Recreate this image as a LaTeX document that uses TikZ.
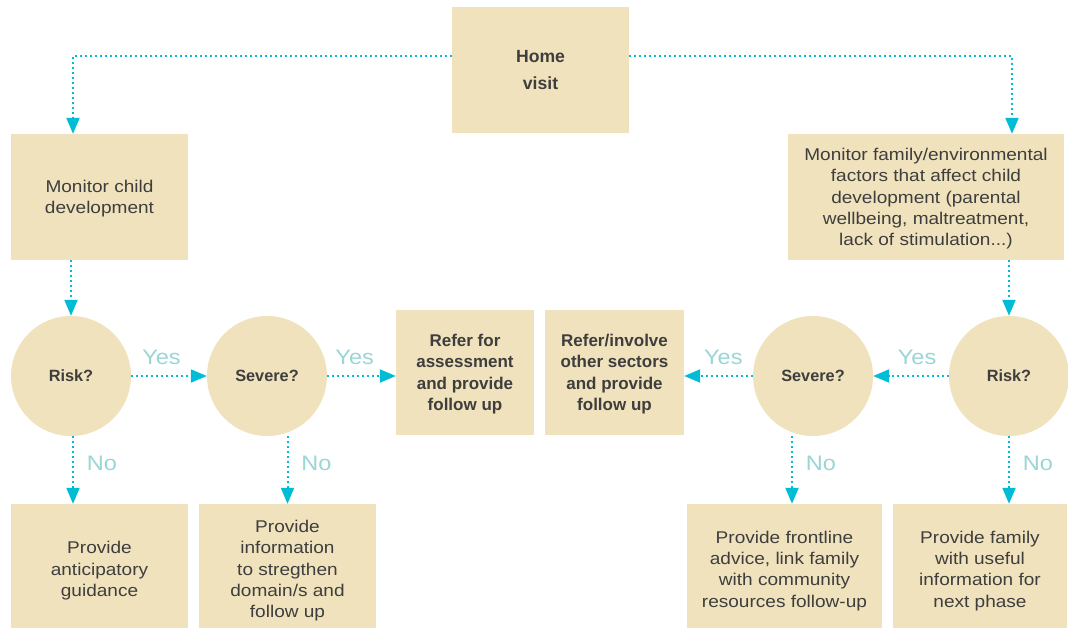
\documentclass[tikz,border=0pt]{standalone}
\usepackage{fontspec}
\setmainfont{Liberation Sans}
\newfontfamily\regf{Liberation Sans}[FakeStretch=1.12]
\usetikzlibrary{arrows.meta,calc}
\definecolor{boxc}{HTML}{F0E2BC}
\definecolor{arrc}{RGB}{0,188,212}
\definecolor{txt}{HTML}{3E3E3E}
\definecolor{lblc}{HTML}{9AD6D6}
\tikzset{
  box/.style={rectangle, fill=boxc, draw=none, align=center, inner sep=0pt, text=txt,
    text depth=-5pt, font=\regf\fontsize{17}{21.3}\selectfont},
  bbox/.style={box, text depth=-7pt, font=\bfseries\fontsize{17}{21.5}\selectfont},
  circ/.style={circle, fill=boxc, draw=none, minimum size=120pt, inner sep=0pt, text=txt,
    font=\bfseries\fontsize{16.3}{20}\selectfont},
  arr/.style={draw=arrc, line width=2pt, dash pattern=on 2pt off 3pt,
    -{Triangle[width=13pt,length=16pt,fill=arrc]}},
  lbl/.style={text=lblc, font=\regf\fontsize{21}{24}\selectfont, inner sep=0pt},
}
\begin{document}
\begin{tikzpicture}[x=1pt,y=-1pt]
\useasboundingbox[fill=white] (0,0) rectangle (1068,628);
% top
\node[bbox, minimum width=177pt, minimum height=126pt, text depth=-9pt, font=\bfseries\fontsize{17.6}{27.4}\selectfont] (hv) at (540.5,70) {Home\\visit};
\node[box, minimum width=177pt, minimum height=126pt] (mc) at (99.5,197) {Monitor child\\development};
\node[box, minimum width=276pt, minimum height=126pt] (mf) at (926,197) {Monitor family/environmental\\factors that affect child\\development (parental\\wellbeing, maltreatment,\\lack of stimulation...)};
% middle
\node[circ] (risk1) at (71,376) {Risk?};
\node[circ] (sev1) at (267,376) {Severe?};
\node[bbox, minimum width=138pt, minimum height=125pt] (ref1) at (465,372.5) {Refer for\\assessment\\and provide\\follow up};
\node[bbox, minimum width=139pt, minimum height=125pt] (ref2) at (614.5,372.5) {Refer/involve\\other sectors\\and provide\\follow up};
\node[circ] (sev2) at (813,376) {Severe?};
\node[circ] (risk2) at (1009,376) {Risk?};
% bottom
\node[box, minimum width=177pt, minimum height=130pt] (b1) at (99.5,569) {Provide\\anticipatory\\guidance};
\node[box, minimum width=177pt, minimum height=130pt] (b2) at (287.5,569) {Provide\\information\\to stregthen\\domain/s and\\follow up};
\node[box, minimum width=195pt, minimum height=130pt] (b3) at (784.5,569) {Provide frontline\\advice, link family\\with community\\resources follow-up};
\node[box, minimum width=174pt, minimum height=130pt] (b4) at (980,569) {Provide family\\with useful\\information for\\next phase};
% connectors
\coordinate (jl) at (73,56);
\coordinate (jr) at (1012,56);
\draw[arr] (hv.west |- jl) -- (jl) -- (jl |- mc.north);
\draw[arr] (hv.east |- jr) -- (jr) -- (jr |- mf.north);
\draw[arr] (mc.south -| risk1) -- (risk1.north);
\draw[arr] (mf.south -| risk2) -- (risk2.north);
\draw[arr] (risk1.east) -- node[lbl, pos=.4, yshift=19pt] (y1) {Yes} (sev1.west);
\draw[arr] (sev1.east) -- node[lbl, pos=.4, yshift=19pt] (y2) {Yes} (sev1.east -| ref1.west);
\draw[arr] (risk2.west) -- node[lbl, pos=.42, yshift=19pt] (y3) {Yes} (sev2.east);
\draw[arr] (sev2.west) -- node[lbl, pos=.43, yshift=19pt] (y4) {Yes} (sev2.west -| ref2.east);
\draw[arr] ([xshift=2pt]risk1.south) -- node[lbl, pos=.4, xshift=29pt] (n1) {No} ([xshift=2pt]risk1.south |- b1.north);
\draw[arr] (b2.north |- sev1.south) -- node[lbl, pos=.4, xshift=29pt] (n2) {No} (b2.north);
\draw[arr] ([xshift=-21pt]sev2.south) -- node[lbl, pos=.4, xshift=29pt] (n3) {No} ([xshift=-21pt]sev2.south |- b3.north);
\draw[arr] (risk2.south) -- node[lbl, pos=.4, xshift=29pt] (n4) {No} (risk2.south |- b4.north);
\end{tikzpicture}
\end{document}
